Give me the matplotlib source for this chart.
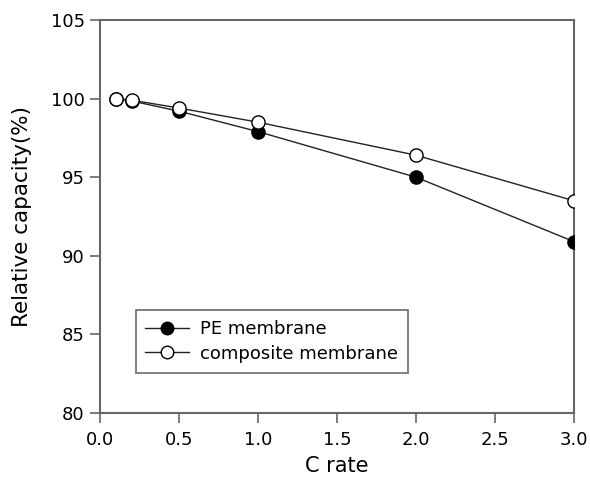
import matplotlib
matplotlib.use("Agg")
import matplotlib.pyplot as plt

c_rate = [0.1, 0.2, 0.5, 1.0, 2.0, 3.0]
pe_membrane = [100.0, 99.85, 99.2, 97.9, 95.0, 90.9]
composite_membrane = [100.0, 99.9, 99.4, 98.5, 96.4, 93.5]
x_ticks = [0.0, 0.5, 1.0, 1.5, 2.0, 2.5, 3.0]
y_ticks = [80, 85, 90, 95, 100, 105]

plt.rcParams['font.family'] = ['DejaVu Sans']
fig = plt.figure(figsize=(5.9, 4.79), dpi=100)
ax = fig.add_axes([100/590, 66/479, 474/590, 393/479])

ax.plot(c_rate, pe_membrane, '-o', color='#222222', lw=1.0, markersize=9.5,
        markerfacecolor='black', markeredgecolor='black', label='PE membrane', zorder=3)
ax.plot(c_rate, composite_membrane, '-o', color='#222222', lw=1.0, markersize=9.5,
        markerfacecolor='white', markeredgecolor='black', markeredgewidth=1.0,
        label='composite membrane', zorder=4)

ax.set_xlim(0, 3.0)
ax.set_ylim(80, 105)
ax.set_xticks(x_ticks)
ax.set_xticklabels([f"{v:.1f}" for v in x_ticks])
ax.set_yticks(y_ticks)
for s in ax.spines.values():
    s.set_color('#666666')
    s.set_linewidth(1.5)
ax.tick_params(direction='out', length=7, width=1.2, color='#666666', labelsize=13)
ax.tick_params(axis='x', pad=6)
ax.tick_params(axis='y', pad=4)
ax.set_xlabel('C rate', fontsize=15, labelpad=5)
ax.set_ylabel('Relative capacity(%)', fontsize=15.5, va='center', ha='center')
ax.yaxis.set_label_coords(-0.164, 0.5)

leg = ax.legend(loc='lower left', bbox_to_anchor=(0.075, 0.103), fontsize=13,
                frameon=True, fancybox=False, edgecolor='#444444', handlelength=2.4,
                borderpad=0.55, labelspacing=0.35, handletextpad=0.6, markerscale=0.95,
                borderaxespad=0)
leg.get_frame().set_linewidth(1.2)

fig.savefig('out.png', dpi=100)
